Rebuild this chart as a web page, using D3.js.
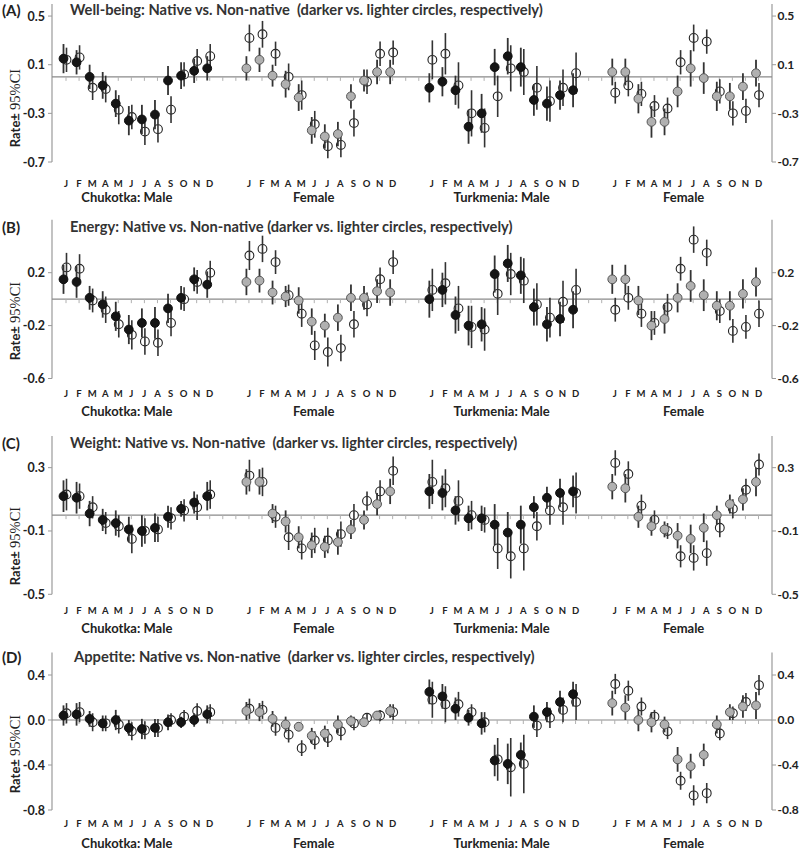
<!DOCTYPE html>
<html><head><meta charset="utf-8">
<script src="https://cdn.jsdelivr.net/npm/d3@7"></script>
<style>body{margin:0;background:#fff}svg{display:block}</style>
</head><body><svg id="c" width="800" height="851"></svg>
<script>
const months = ["J","F","M","A","M","J","J","A","S","O","N","D"];
const groups = ["Chukotka: Male","Female","Turkmenia: Male","Female"];
const panelLetters = ["(A)","(B)","(C)","(D)"];
const titles = [
 "Well-being: Native vs. Non-native  (darker vs. lighter circles, respectively)",
 "Energy: Native vs. Non-native (darker vs. lighter circles, respectively)",
 "Weight: Native vs. Non-native  (darker vs. lighter circles, respectively)",
 "Appetite: Native vs. Non-native  (darker vs. lighter circles, respectively)"];
const tickValues = [[-0.7,-0.3,0.1,0.5],[-0.6,-0.2,0.2],[-0.5,-0.1,0.3],[-0.8,-0.4,0.0,0.4]];
const domains = [[-0.7,0.6],[-0.6,0.6],[-0.5,0.5],[-0.8,0.6]];

// Well-being (A): groups in order Chukotka Male, Chukotka Female, Turkmenia Male, Turkmenia Female
const wellNative = [0.15,0.12,0.00,-0.07,-0.22,-0.36,-0.35,-0.31,-0.03,0.01,0.05,0.07,
 0.07,0.14,0.01,-0.06,-0.17,-0.44,-0.49,-0.47,-0.16,-0.03,0.04,0.04,
 -0.09,-0.04,-0.11,-0.41,-0.30,0.08,0.17,0.08,-0.19,-0.22,-0.15,-0.11,
 0.04,0.04,-0.18,-0.37,-0.37,-0.12,0.07,-0.01,-0.16,-0.16,-0.08,0.03];
const wellNativeCI = [0.12,0.10,0.10,0.11,0.11,0.12,0.12,0.12,0.12,0.11,0.10,0.10,
 0.10,0.10,0.09,0.11,0.11,0.11,0.10,0.10,0.10,0.09,0.10,0.10,
 0.12,0.12,0.12,0.14,0.16,0.15,0.15,0.16,0.13,0.14,0.12,0.14,
 0.11,0.11,0.12,0.13,0.11,0.13,0.15,0.13,0.12,0.11,0.11,0.11];
const wellNon = [0.14,0.16,-0.09,-0.10,-0.27,-0.33,-0.45,-0.43,-0.27,0.02,0.13,0.17,
 0.32,0.35,0.19,0.00,-0.15,-0.39,-0.57,-0.56,-0.38,-0.04,0.19,0.20,
 0.14,0.19,-0.07,-0.30,-0.42,-0.16,0.07,0.04,-0.09,-0.20,-0.09,0.03,
 -0.13,-0.07,-0.14,-0.24,-0.26,0.12,0.32,0.29,-0.12,-0.30,-0.28,-0.15];
const wellNonCI = [0.10,0.10,0.10,0.11,0.12,0.10,0.11,0.11,0.11,0.10,0.10,0.10,
 0.11,0.11,0.10,0.11,0.12,0.11,0.10,0.10,0.11,0.10,0.10,0.10,
 0.16,0.17,0.19,0.19,0.16,0.17,0.19,0.19,0.18,0.17,0.15,0.17,
 0.09,0.09,0.10,0.09,0.09,0.10,0.11,0.10,0.10,0.10,0.10,0.10];

// Energy (B)
const energyNative = [0.15,0.13,0.01,-0.04,-0.13,-0.23,-0.18,-0.18,-0.07,0.01,0.15,0.11,
 0.13,0.14,0.05,0.02,-0.01,-0.17,-0.20,-0.14,0.01,0.01,0.06,0.05,
 0.00,0.07,-0.12,-0.20,-0.19,0.19,0.27,0.18,-0.06,-0.19,-0.15,-0.08,
 0.15,0.15,-0.01,-0.20,-0.15,0.01,0.10,0.03,-0.05,-0.05,0.04,0.13];
const energyNativeCI = [0.11,0.12,0.09,0.10,0.11,0.11,0.11,0.12,0.11,0.09,0.09,0.10,
 0.10,0.09,0.09,0.08,0.10,0.10,0.09,0.10,0.10,0.09,0.09,0.10,
 0.14,0.13,0.14,0.15,0.13,0.14,0.14,0.14,0.14,0.13,0.13,0.14,
 0.11,0.11,0.11,0.11,0.11,0.11,0.12,0.12,0.11,0.11,0.11,0.11];
const energyNon = [0.24,0.23,-0.01,-0.08,-0.19,-0.27,-0.32,-0.33,-0.18,0.00,0.13,0.20,
 0.33,0.38,0.28,0.03,-0.11,-0.35,-0.40,-0.37,-0.19,-0.04,0.15,0.28,
 0.07,0.12,-0.07,-0.21,-0.23,0.04,0.19,0.14,-0.04,-0.14,-0.02,0.07,
 -0.08,0.01,-0.11,-0.18,-0.06,0.23,0.45,0.35,-0.09,-0.24,-0.21,-0.11];
const energyNonCI = [0.11,0.11,0.09,0.10,0.10,0.11,0.10,0.10,0.10,0.09,0.09,0.09,
 0.11,0.10,0.09,0.08,0.10,0.11,0.11,0.10,0.10,0.09,0.09,0.09,
 0.16,0.16,0.17,0.16,0.16,0.16,0.16,0.17,0.16,0.15,0.16,0.16,
 0.09,0.09,0.10,0.09,0.10,0.09,0.10,0.10,0.09,0.09,0.09,0.10];

// Weight (C)
const weightNative = [0.12,0.11,0.01,-0.03,-0.05,-0.09,-0.10,-0.08,-0.01,0.04,0.08,0.12,
 0.21,0.21,0.01,-0.04,-0.14,-0.19,-0.20,-0.17,-0.09,-0.03,0.07,0.15,
 0.15,0.14,0.03,-0.02,-0.02,-0.06,-0.11,-0.06,0.05,0.11,0.14,0.15,
 0.18,0.17,-0.01,-0.07,-0.09,-0.13,-0.15,-0.08,0.00,0.07,0.10,0.21];
const weightNativeCI = [0.10,0.10,0.08,0.07,0.08,0.08,0.10,0.09,0.07,0.05,0.07,0.09,
 0.08,0.08,0.06,0.07,0.07,0.08,0.07,0.08,0.06,0.06,0.07,0.08,
 0.11,0.11,0.09,0.08,0.08,0.13,0.13,0.12,0.07,0.07,0.09,0.10,
 0.08,0.09,0.07,0.06,0.05,0.08,0.09,0.09,0.06,0.06,0.07,0.09];
const weightNon = [0.13,0.12,0.05,-0.05,-0.07,-0.15,-0.10,-0.09,-0.02,0.03,0.05,0.13,
 0.25,0.21,-0.01,-0.14,-0.21,-0.16,-0.16,-0.12,0.00,0.09,0.15,0.28,
 0.21,0.17,0.09,0.00,-0.03,-0.21,-0.26,-0.21,-0.07,0.03,0.05,0.14,
 0.33,0.26,0.06,-0.03,-0.10,-0.26,-0.27,-0.24,-0.08,0.04,0.16,0.32];
const weightNonCI = [0.10,0.08,0.07,0.07,0.07,0.09,0.08,0.08,0.07,0.07,0.08,0.09,
 0.10,0.09,0.07,0.08,0.07,0.08,0.08,0.08,0.07,0.06,0.07,0.09,
 0.14,0.12,0.13,0.09,0.08,0.13,0.14,0.14,0.09,0.09,0.11,0.13,
 0.08,0.08,0.07,0.06,0.05,0.07,0.08,0.08,0.06,0.06,0.07,0.07];

// Appetite (D)
const appNative = [0.04,0.05,0.01,-0.03,0.00,-0.07,-0.08,-0.07,-0.02,-0.02,0.00,0.05,
 0.08,0.07,0.01,-0.04,-0.06,-0.14,-0.12,-0.04,-0.01,-0.02,0.04,0.08,
 0.25,0.21,0.10,0.02,-0.03,-0.36,-0.39,-0.31,0.03,0.07,0.16,0.23,
 0.15,0.11,0.00,-0.02,-0.04,-0.35,-0.41,-0.31,-0.04,0.07,0.12,0.13];
const appNativeCI = [0.09,0.10,0.07,0.07,0.09,0.07,0.09,0.08,0.07,0.05,0.06,0.08,
 0.08,0.08,0.07,0.07,0.04,0.07,0.07,0.08,0.05,0.04,0.04,0.06,
 0.11,0.11,0.10,0.07,0.10,0.14,0.18,0.11,0.10,0.09,0.10,0.11,
 0.11,0.11,0.10,0.09,0.07,0.11,0.11,0.10,0.08,0.07,0.10,0.12];
const appNon = [0.06,0.07,-0.02,-0.03,-0.04,-0.10,-0.09,-0.07,0.00,0.03,0.08,0.07,
 0.10,0.09,-0.07,-0.13,-0.25,-0.18,-0.16,-0.10,-0.03,0.02,0.04,0.07,
 0.18,0.14,0.14,0.07,-0.02,-0.35,-0.42,-0.39,-0.05,0.02,0.09,0.16,
 0.32,0.26,0.12,0.03,-0.10,-0.54,-0.67,-0.65,-0.12,0.06,0.16,0.31];
const appNonCI = [0.09,0.09,0.08,0.07,0.08,0.08,0.08,0.08,0.06,0.06,0.07,0.07,
 0.09,0.08,0.07,0.07,0.07,0.08,0.08,0.08,0.06,0.04,0.05,0.07,
 0.16,0.16,0.11,0.07,0.09,0.19,0.26,0.26,0.10,0.09,0.11,0.16,
 0.09,0.09,0.08,0.06,0.07,0.08,0.09,0.09,0.06,0.06,0.08,0.09];

const panelData = [
 {nat: wellNative, natCI: wellNativeCI, non: wellNon, nonCI: wellNonCI},
 {nat: energyNative, natCI: energyNativeCI, non: energyNon, nonCI: energyNonCI},
 {nat: weightNative, natCI: weightNativeCI, non: weightNon, nonCI: weightNonCI},
 {nat: appNative, natCI: appNativeCI, non: appNon, nonCI: appNonCI}];

// layout (pixels)
const layout = [
 {yRange:[162,3.9], title:15, month:186.5, group:202, ylab:108},
 {yRange:[378.5,219.8], title:232, month:397, group:416, ylab:321},
 {yRange:[594.3,436], title:448, month:614, group:633, ylab:546},
 {yRange:[810,652.5], title:662, month:827, group:848, ylab:754}];
const titleStart = [70,70,70,74];
const titleWidth = [473,443,448,461];
const groupDx = [-11,-7,-2,-3];
const SANS = "Lato, 'Open Sans', sans-serif";

const svg = d3.select("#c");
const x = d3.scaleLinear().domain([0,53]).range([66,758.5]);
const slot = (g,m) => g*14+m;
const fmt = v => d3.format(".1f")(v).replace("\u2212","-");
const axisColor = "#9a9a9a";

function fit(sel, w){
  const n = sel.node(); const fs = parseFloat(sel.attr("font-size"));
  const l = n.getComputedTextLength(); sel.attr("font-size", fs*w/l);
}

layout.forEach((L, p) => {
  const y = d3.scaleLinear().domain(domains[p]).range(L.yRange);
  const g = svg.append("g");
  // axes
  g.append("line").attr("x1",52).attr("x2",52).attr("y1",y(domains[p][1])).attr("y2",y(domains[p][0]))
    .attr("stroke",axisColor).attr("stroke-width",1.2);
  g.append("line").attr("x1",772).attr("x2",772).attr("y1",y(domains[p][1])).attr("y2",y(domains[p][0]))
    .attr("stroke",axisColor).attr("stroke-width",1.2);
  tickValues[p].forEach(t => {
    g.append("line").attr("x1",48).attr("x2",52).attr("y1",y(t)).attr("y2",y(t)).attr("stroke",axisColor);
    g.append("line").attr("x1",772).attr("x2",776).attr("y1",y(t)).attr("y2",y(t)).attr("stroke",axisColor);
    g.append("text").attr("x",45).attr("y",y(t)).attr("dy","0.36em").attr("text-anchor","end")
      .attr("font-family",SANS).attr("font-weight","bold").attr("font-size",12.5).attr("fill","#222").text(fmt(t));
    g.append("text").attr("x",777.5).attr("y",y(t)).attr("dy","0.36em").attr("text-anchor","start")
      .attr("font-family",SANS).attr("font-weight","bold").attr("font-size",12).attr("fill","#222").text(fmt(t));
  });
  // zero line with small ticks
  g.append("line").attr("x1",52).attr("x2",772).attr("y1",y(0)).attr("y2",y(0))
    .attr("stroke","#8a8a8a").attr("stroke-width",1.2);
  d3.range(-1,55).forEach(s => {
    const xx = x(s); if (xx<=53 || xx>=771) return;
    g.append("line").attr("x1",xx).attr("x2",xx).attr("y1",y(0)).attr("y2",y(0)+4)
      .attr("stroke","#b0b0b0").attr("stroke-width",1);
  });
  // labels
  g.append("text").attr("x",2).attr("y",L.title+1).attr("font-family",SANS).attr("font-weight","bold")
    .attr("font-size",15).attr("fill","#222").text(panelLetters[p]);
  const tt = g.append("text").attr("x",titleStart[p]).attr("y",L.title).attr("font-family",SANS)
    .attr("font-weight","bold").attr("font-size",13).attr("fill","#333").attr("xml:space","preserve")
    .style("white-space","pre").text(titles[p]);
  fit(tt, titleWidth[p]);
  const yl = g.append("text").attr("transform",`translate(20,${L.ylab}) rotate(-90)`).attr("text-anchor","middle")
    .attr("fill","#222");
  yl.append("tspan").attr("font-family",SANS).attr("font-weight","bold").attr("font-size",13).text("Rate± ");
  yl.append("tspan").attr("font-family","'Liberation Serif', serif").attr("font-size",14.5).text("95%CI");
  groups.forEach((gn, gi) => {
    months.forEach((m, mi) => {
      g.append("text").attr("x",x(slot(gi,mi))).attr("y",L.month).attr("text-anchor","middle")
        .attr("font-family",SANS).attr("font-weight","bold").attr("font-size",9.5).attr("fill","#222").text(m);
    });
    const cx = (x(slot(gi,0))+x(slot(gi,11)))/2 + groupDx[gi];
    g.append("text").attr("x",cx).attr("y",L.group).attr("text-anchor","middle")
      .attr("font-family",SANS).attr("font-weight","bold").attr("font-size",13).attr("fill","#222").text(gn);
  });
  // points
  const D = panelData[p];
  const pts = D.nat.map((v,i) => {
    const gi = Math.floor(i/12), mi = i%12;
    return {gi, mi, nat:v, natCI:D.natCI[i], non:D.non[i], nonCI:D.nonCI[i], xs:x(slot(gi,mi))};
  });
  const R = 4.4;
  pts.forEach(d => {
    const xo = d.xs+0.5, xn = d.xs-2.5;
    g.append("circle").attr("cx",xo).attr("cy",y(d.non)).attr("r",R)
      .attr("fill","#fff").attr("stroke","#222").attr("stroke-width",1.1);
    g.append("line").attr("x1",xo).attr("x2",xo).attr("y1",y(d.non-d.nonCI)).attr("y2",y(d.non+d.nonCI))
      .attr("stroke","#333").attr("stroke-width",1.6);
    g.append("line").attr("x1",xn).attr("x2",xn).attr("y1",y(d.nat-d.natCI)).attr("y2",y(d.nat+d.natCI))
      .attr("stroke","#333").attr("stroke-width",1.8);
    const female = d.gi % 2 === 1;
    g.append("circle").attr("cx",xn).attr("cy",y(d.nat)).attr("r",R)
      .attr("fill", female ? "#b0b0b0" : "#151515").attr("stroke", female ? "#555" : "#111").attr("stroke-width",1);
  });
});
</script></body></html>
